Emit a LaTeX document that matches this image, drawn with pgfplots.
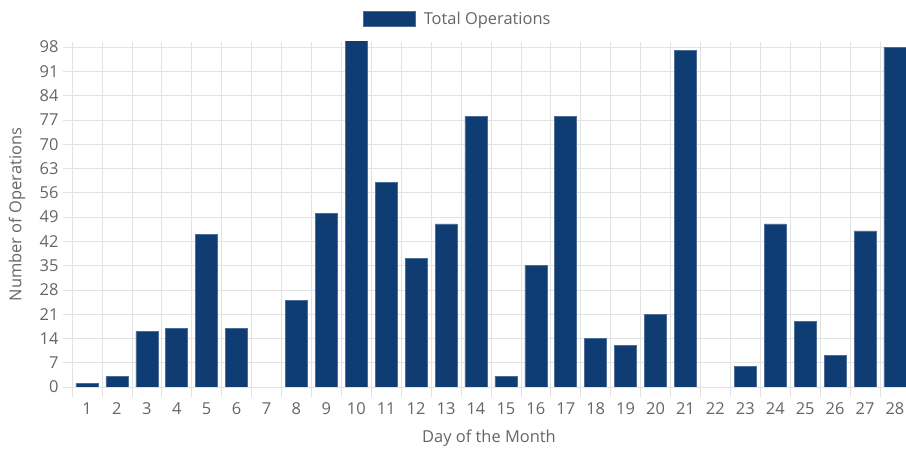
\documentclass[border=0pt]{standalone}
\usepackage{fontspec}
\setmainfont{Open Sans}
\usepackage{pgfplots}
\pgfplotsset{compat=1.18}
\definecolor{barcol}{HTML}{0F3D73}
\definecolor{gridcol}{HTML}{E2E2E2}
\definecolor{txtcol}{HTML}{666666}
\begin{document}
\begin{tikzpicture}[x=1bp,y=1bp]
\path[use as bounding box] (0,0) rectangle (906,451);
\begin{axis}[
  at={(72bp,64bp)}, anchor=south west,
  scale only axis, width=834bp, height=345bp,
  xmin=0.5, xmax=28.37, ymin=0, ymax=99.45,
  clip=true,
  ybar, bar width=22bp,
  axis x line*=bottom, axis y line*=left,
  axis line style={gridcol, line width=0.8pt, -},
  xtick={1,...,28},
  minor xtick={0.5,1.5,...,28.5},
  xminorgrids=true, xmajorgrids=false,
  ytick={0,7,...,98}, ymajorgrids=true,
  grid style={gridcol, line width=0.7pt},
  minor grid style={gridcol, line width=0.7pt},
  tick align=outside,
  every major x tick/.append style={draw=none},
  minor tick length=10bp, major tick length=9bp,
  tick style={gridcol, line width=0.7pt},
  tick label style={font=\fontsize{16.5}{18}\selectfont, text=txtcol},
  /pgf/number format/assume math mode=true,
  xlabel={Day of the Month}, ylabel={Number of Operations},
  label style={font=\fontsize{16.5}{18}\selectfont, text=txtcol},
  xlabel style={at={(axis description cs:0.5,0)}, anchor=center, yshift=-51bp},
  ylabel style={at={(axis description cs:0,0.5)}, anchor=center, yshift=55bp},
  yticklabel style={xshift=-1bp},
  xticklabel style={yshift=-3bp},
  legend style={at={(0.3489,1.0667)}, anchor=west, draw=none, fill=none,
    font=\fontsize{16.5}{18}\selectfont, text=txtcol, inner sep=0pt,
    nodes={inner xsep=0pt},
    /tikz/every odd column/.append style={column sep=8bp}},
  legend image code/.code={\draw[fill=barcol, draw=barcol!75!white, line width=0.6pt] (0bp,-7.5bp) rectangle (52bp,7.5bp);},
]
% days 7 and 22 have value 0 and draw no bar
\addplot[fill=barcol, draw=barcol!75!white, line width=0.6pt, bar shift=0pt] coordinates {
(1,1) (2,3) (3,16) (4,17) (5,44) (6,17) (8,25) (9,50) (10,100)
(11,59) (12,37) (13,47) (14,78) (15,3) (16,35) (17,78) (18,14) (19,12) (20,21)
(21,97) (23,6) (24,47) (25,19) (26,9) (27,45) (28,98)
};
\addlegendentry{Total Operations}
\end{axis}
\end{tikzpicture}
\end{document}
